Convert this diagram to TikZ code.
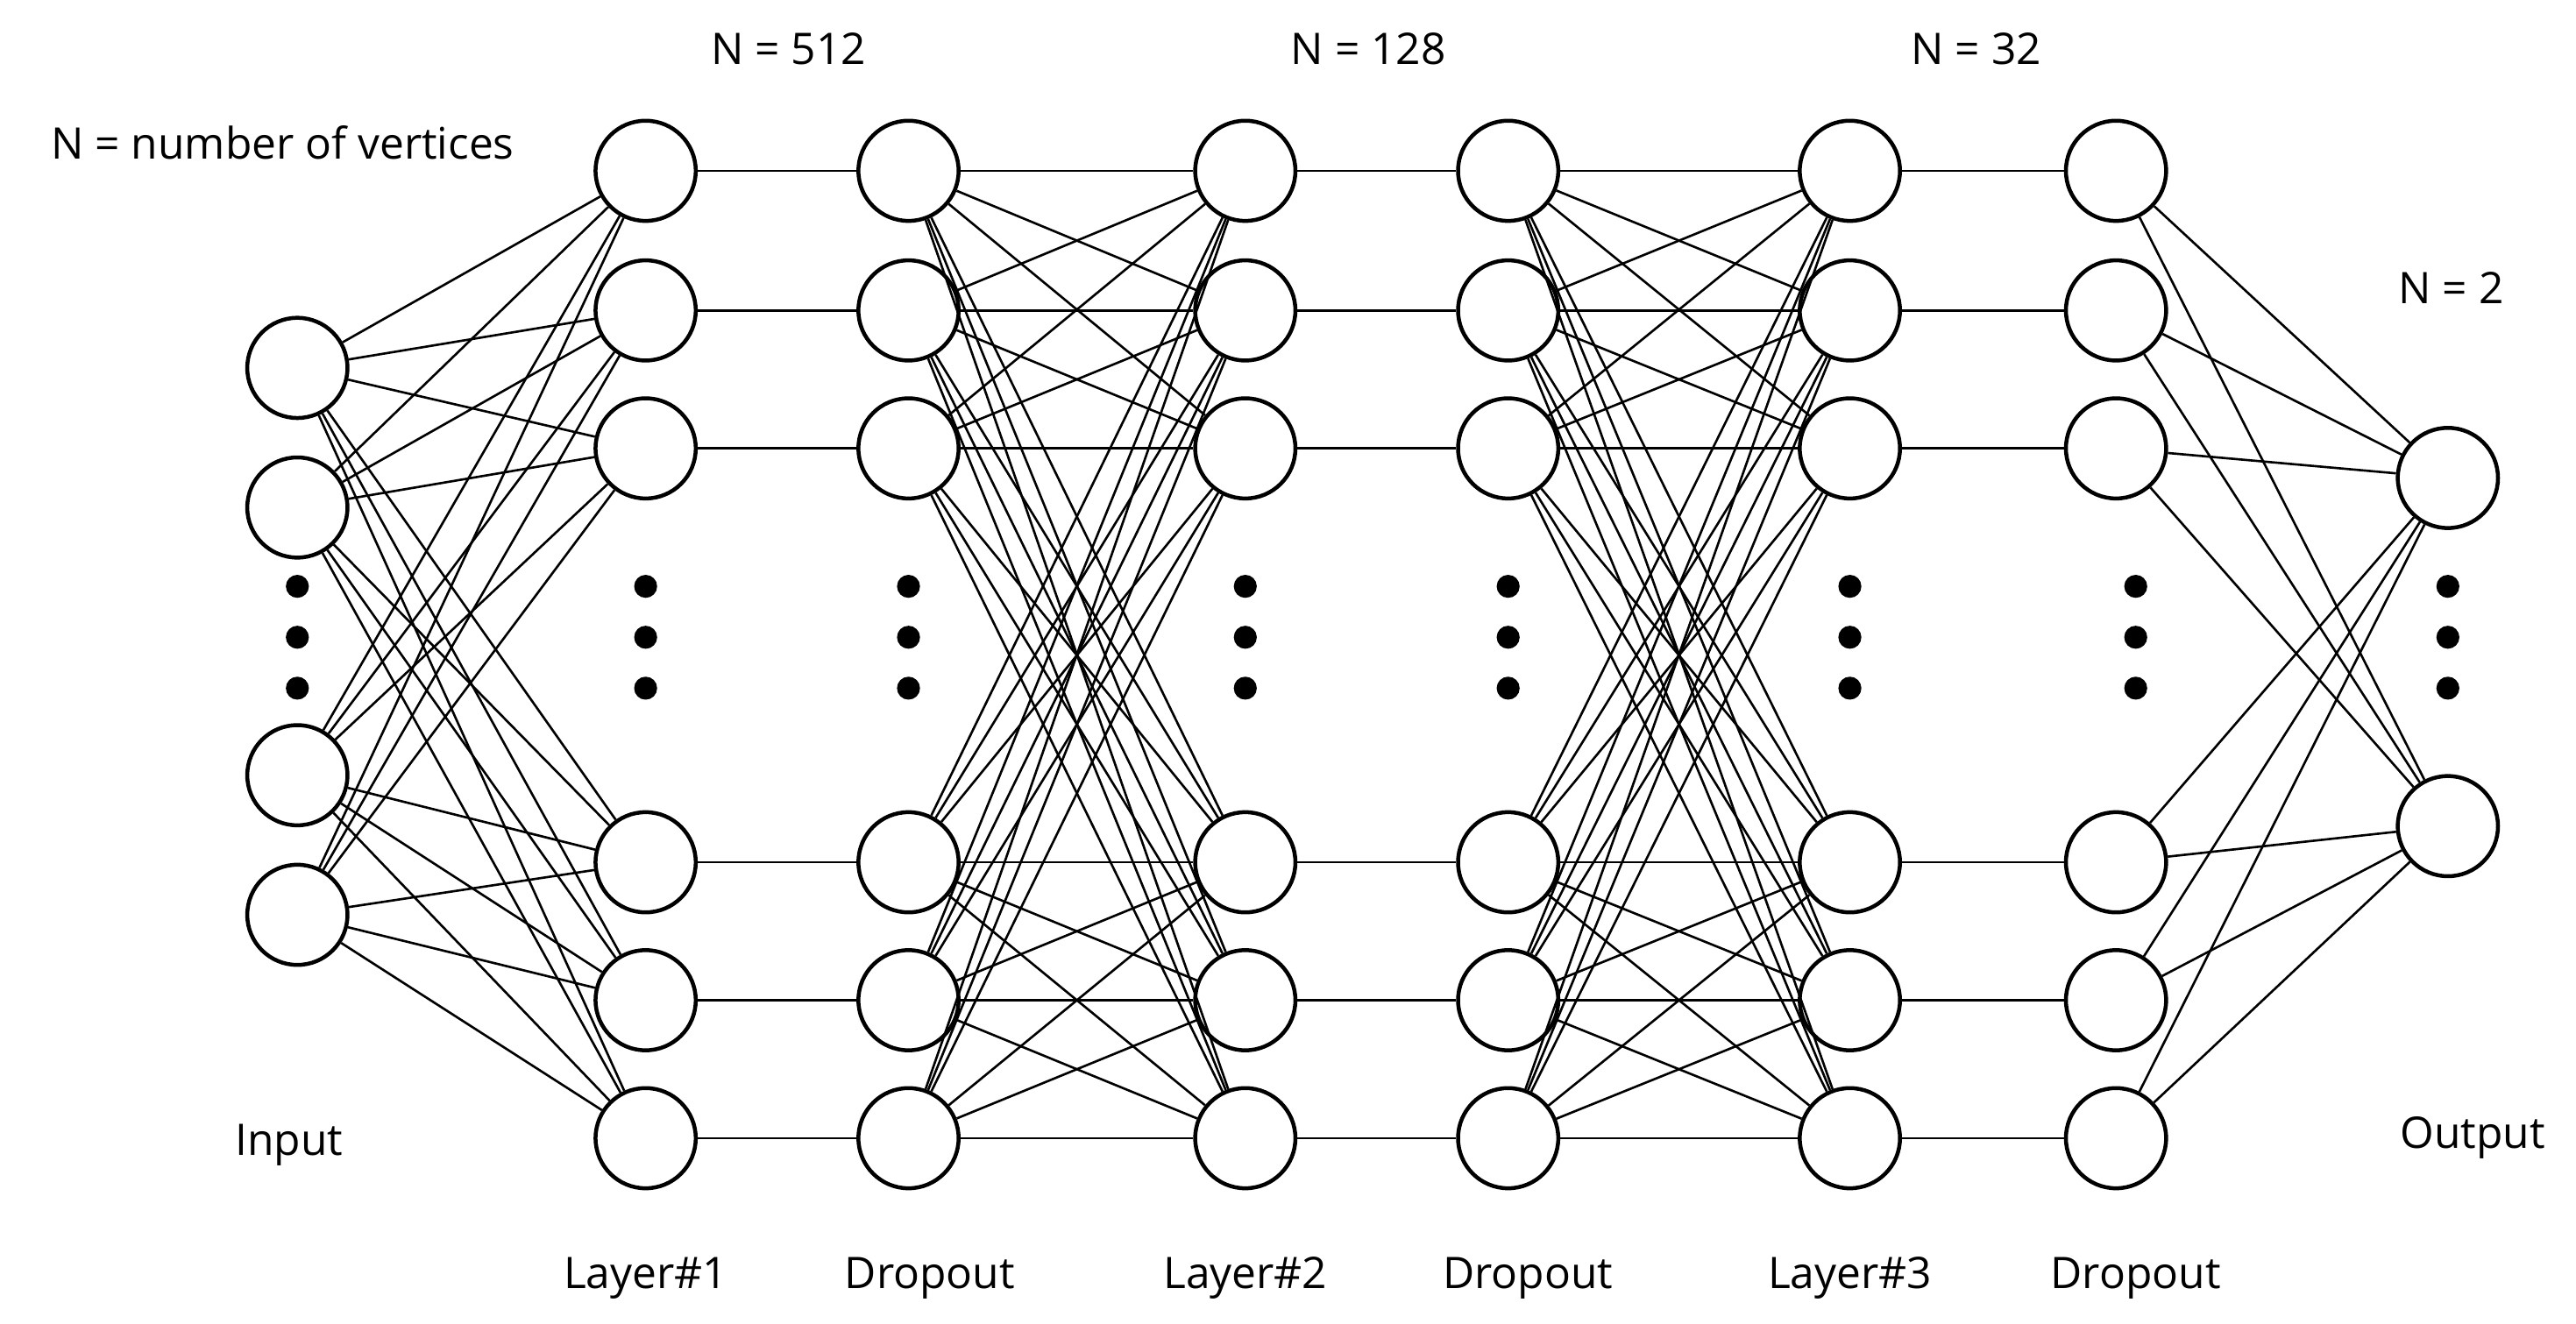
\documentclass[tikz,border=0pt]{standalone}
\usepackage{fontspec}
\setmainfont{Open Sans}
\begin{document}
\begin{tikzpicture}[x=1pt,y=-1pt,
  neu/.style={circle,draw,line width=2.4pt,minimum size=61pt,inner sep=0pt,fill=white},
  lab/.style={font=\fontsize{26.5}{30}\selectfont},
  dot/.style={circle,fill=black,inner sep=0pt,minimum size=14pt},
  edge/.style={line width=1.4pt}]
\useasboundingbox (0,0) rectangle (1568,806);
\def\rows{104/1,189/2,273/3,525/4,609/5,693/6}
\foreach \y/\i in {224/1,309/2,472/3,557/4} \node[neu] (in\i) at (181,\y) {};
\foreach \c/\xx in {a/393,b/553,c/758,d/918,e/1126,f/1288}
  \foreach \y/\i in \rows \node[neu] (\c\i) at (\xx,\y) {};
\node[neu] (out1) at (1490,291) {};
\node[neu] (out2) at (1490,503) {};
\foreach \i in {1,...,4} \foreach \j in {1,...,6} \draw[edge] (in\i) -- (a\j);
\foreach \j in {1,...,6} {
  \draw[edge] (a\j) -- (b\j);
  \draw[edge] (c\j) -- (d\j);
  \draw[edge] (e\j) -- (f\j);
  \draw[edge] (f\j) -- (out1);
  \draw[edge] (f\j) -- (out2);
  \foreach \k in {1,...,6} {
    \draw[edge] (b\j) -- (c\k);
    \draw[edge] (d\j) -- (e\k);
  }
}
\foreach \xx/\ya in {181/357,393/357,553/357,758/357,918/357,1126/357,1300/357,1490/357}
  \foreach \d in {0,31,62} \node[dot] (dt\xx-\d) at (\xx,\ya+\d) {};
\node[lab] (t1) at (480,30) {N = 512};
\node[lab] (t2) at (833,30) {N = 128};
\node[lab] (t3) at (1203,30) {N = 32};
\node[lab] (t4) at (1492,175) {N = 2};
\node[lab] (t5) at (172,87) {N = number of vertices};
\node[lab] (t6) at (176,697) {Input};
\node[lab] (t7) at (1505,693) {Output};
\foreach \xx/\t in {393/Layer\#1,566/Dropout,758/Layer\#2,930/Dropout,1126/Layer\#3,1300/Dropout}
  \node[lab] at (\xx,778) {\t};
\end{tikzpicture}
\end{document}
